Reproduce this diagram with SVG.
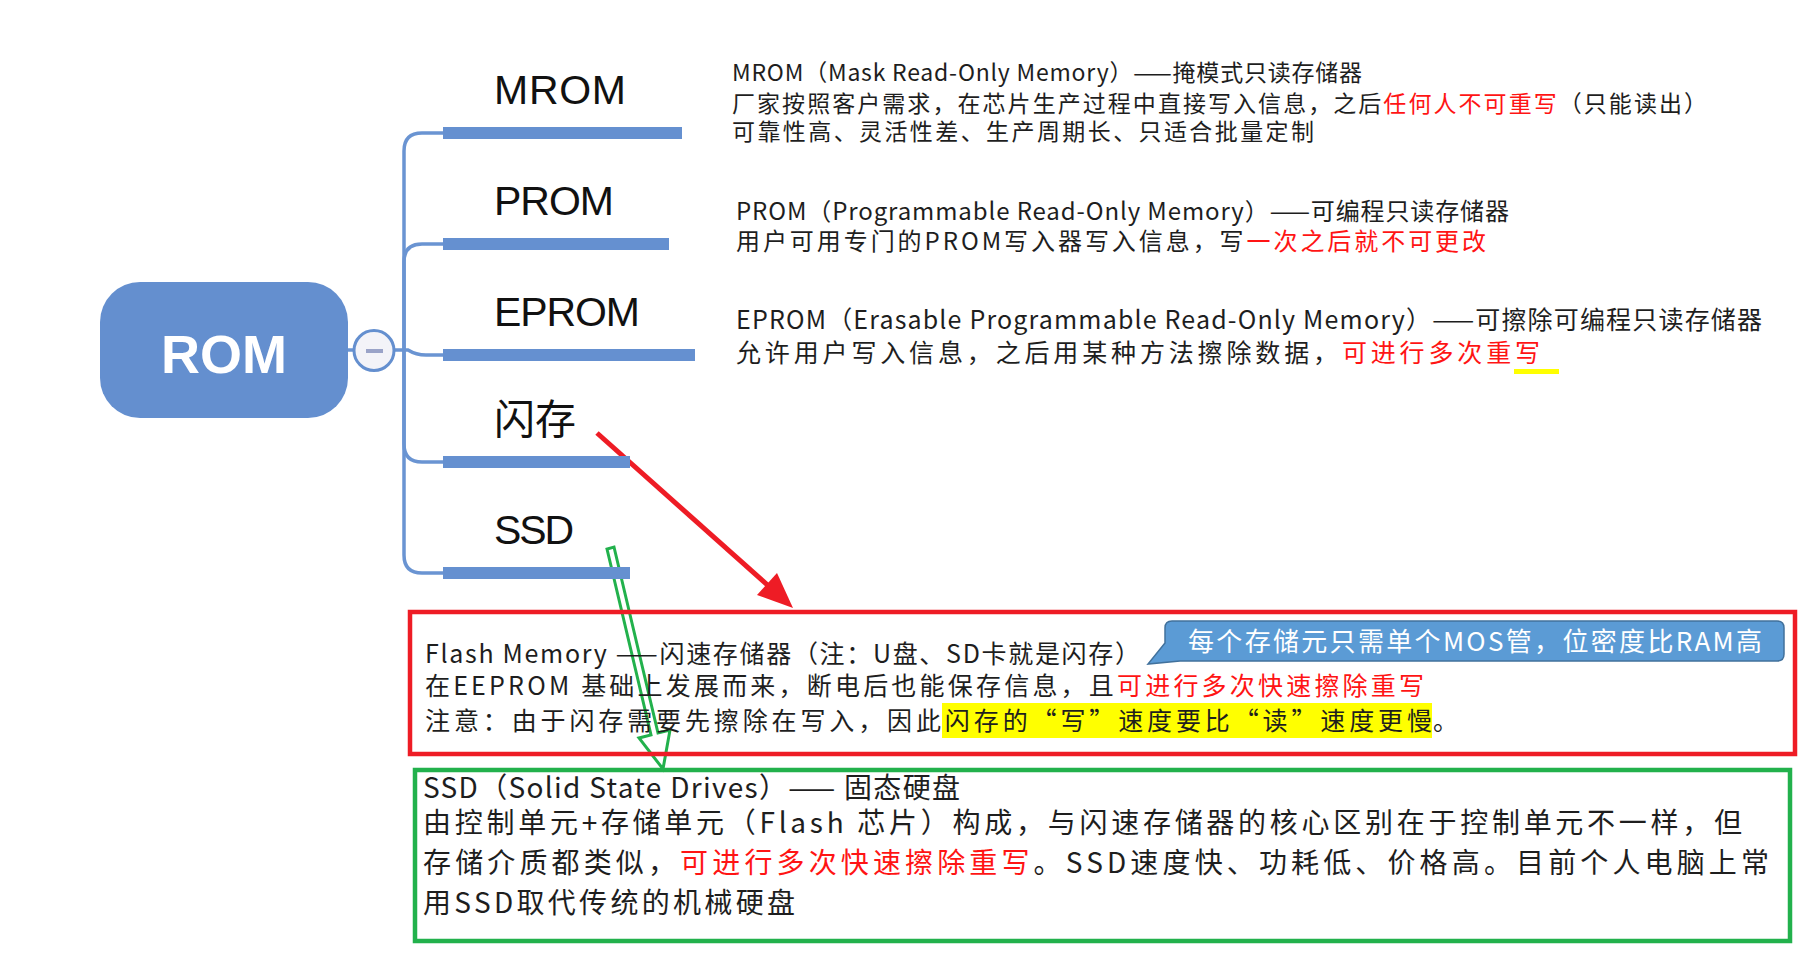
<svg xmlns="http://www.w3.org/2000/svg" width="1805" height="962" viewBox="0 0 1805 962">
<style>
.lbl{font-family:"Liberation Sans","Noto Sans CJK SC",sans-serif;font-size:41px;fill:#111}
.cjk{font-family:"Noto Sans CJK SC",sans-serif;fill:#1e1e1e}
.red{fill:#ff1414}
.bar{fill:#6590d0}
.tree{fill:none;stroke:#6a94d2;stroke-width:3.5}
</style>
<rect width="1805" height="962" fill="#ffffff"/>
<g id="connectors">
<path class="tree" d="M348 350 H356"/>
<path class="tree" d="M404 350 V151 Q404 133 422 133 H446"/>
<path class="tree" d="M404 350 V262 Q404 244 422 244 H446"/>
<path class="tree" d="M393 350 H408 Q416 355 426 355 H446"/>
<path class="tree" d="M404 350 V444 Q404 462 422 462 H446"/>
<path class="tree" d="M404 350 V555 Q404 573 422 573 H446"/>
<g id="red-arrow">
<line x1="597" y1="433" x2="772" y2="589" stroke="#ee1c25" stroke-width="5"/>
<polygon points="793,608 757,595 777,573" fill="#ee1c25"/>
</g>
<g id="green-arrow">
<polygon points="607,549 651,735 639,738 663,769 670,730 658,733 614,547" fill="none" stroke="#22b14c" stroke-width="3" stroke-linejoin="miter"/>
</g>
</g>
<g id="root">
<rect x="100" y="282" width="248" height="136" rx="40" fill="#648fcf"/>
<text x="224" y="373" text-anchor="middle" font-family="Liberation Sans,Arial,sans-serif" font-weight="bold" font-size="54" fill="#ffffff" textLength="126">ROM</text>
<circle cx="374" cy="350.5" r="20" fill="#f3f3f8" stroke="#648fcf" stroke-width="3"/>
<rect x="366" y="349" width="17" height="4" fill="#9aa3c8"/>
</g>
<g id="node-mrom">
<text class="lbl" x="494" y="104" textLength="132">MROM</text>
<rect class="bar" x="443" y="127" width="239" height="12"/>
</g>
<g id="node-prom">
<text class="lbl" x="494" y="215" textLength="120">PROM</text>
<rect class="bar" x="443" y="238" width="226" height="12"/>
</g>
<g id="node-eprom">
<text class="lbl" x="494" y="326" textLength="146">EPROM</text>
<rect class="bar" x="443" y="349" width="252" height="12"/>
</g>
<g id="node-flash">
<text class="lbl" x="494" y="434" font-family="Noto Sans CJK SC,sans-serif" textLength="82">闪存</text>
<rect class="bar" x="443" y="456" width="187" height="12"/>
</g>
<g id="node-ssd">
<text class="lbl" x="494" y="544" textLength="80">SSD</text>
<rect class="bar" x="443" y="567" width="187" height="12"/>
</g>
<g id="desc-mrom" class="cjk" font-size="23">
<text x="732" y="81" textLength="630">MROM（Mask Read-Only Memory）——掩模式只读存储器</text>
<text x="732" y="112" textLength="975">厂家按照客户需求，在芯片生产过程中直接写入信息，之后<tspan class="red">任何人不可重写</tspan>（只能读出）</text>
<text x="732" y="140" textLength="582">可靠性高、灵活性差、生产周期长、只适合批量定制</text>
</g>
<g id="desc-prom" class="cjk" font-size="24">
<text x="736" y="220" textLength="773">PROM（Programmable Read-Only Memory）——可编程只读存储器</text>
<text x="736" y="250" textLength="750">用户可用专门的PROM写入器写入信息，写<tspan class="red">一次之后就不可更改</tspan></text>
</g>
<g id="desc-eprom" class="cjk" font-size="25">
<text x="736" y="329" textLength="1026">EPROM（Erasable Programmable Read-Only Memory）——可擦除可编程只读存储器</text>
<text x="736" y="362" textLength="804">允许用户写入信息，之后用某种方法擦除数据，<tspan class="red">可进行多次重写</tspan></text>
<rect x="1514" y="369" width="45" height="5" fill="#ffff00"/>
</g>
<g id="flash-box">
<rect x="410" y="612" width="1385" height="142" fill="none" stroke="#ee1c25" stroke-width="4.5"/>
<rect x="942" y="703" width="490" height="35" fill="#ffff00"/>
<g class="cjk" font-size="25">
<text x="425" y="663" textLength="715">Flash Memory ——闪速存储器（注：U盘、SD卡就是闪存）</text>
<text x="425" y="695" textLength="999">在EEPROM 基础上发展而来，断电后也能保存信息，且<tspan class="red">可进行多次快速擦除重写</tspan></text>
<text x="425" y="730" textLength="1007">注意：由于闪存需要先擦除在写入，因此闪存的“写”速度要比“读”速度更慢</text>
<text x="1433" y="730">。</text>
</g>
</g>
<g id="callout">
<path d="M1172 621 H1777 Q1784 621 1784 628 V654 Q1784 661 1777 661 H1180 L1148 664 L1165 643 V628 Q1165 621 1172 621 Z" fill="#5b9bd5" stroke="#41719c" stroke-width="1.5"/>
<text x="1188" y="651" class="cjk" font-size="26" fill="#ffffff" style="fill:#ffffff" textLength="574">每个存储元只需单个MOS管，位密度比RAM高</text>
</g>
<g id="ssd-box">
<rect x="415" y="770" width="1375" height="171" fill="none" stroke="#22b14c" stroke-width="4.5"/>
<g class="cjk" font-size="28">
<text x="423" y="798" textLength="537">SSD（Solid State Drives）—— 固态硬盘</text>
<text x="423" y="833" textLength="1319">由控制单元+存储单元（Flash 芯片）构成，与闪速存储器的核心区别在于控制单元不一样，但</text>
<text x="423" y="873" textLength="1346">存储介质都类似，<tspan class="red">可进行多次快速擦除重写</tspan>。SSD速度快、功耗低、价格高。目前个人电脑上常</text>
<text x="423" y="913" textLength="372">用SSD取代传统的机械硬盘</text>
</g>
</g>
</svg>
